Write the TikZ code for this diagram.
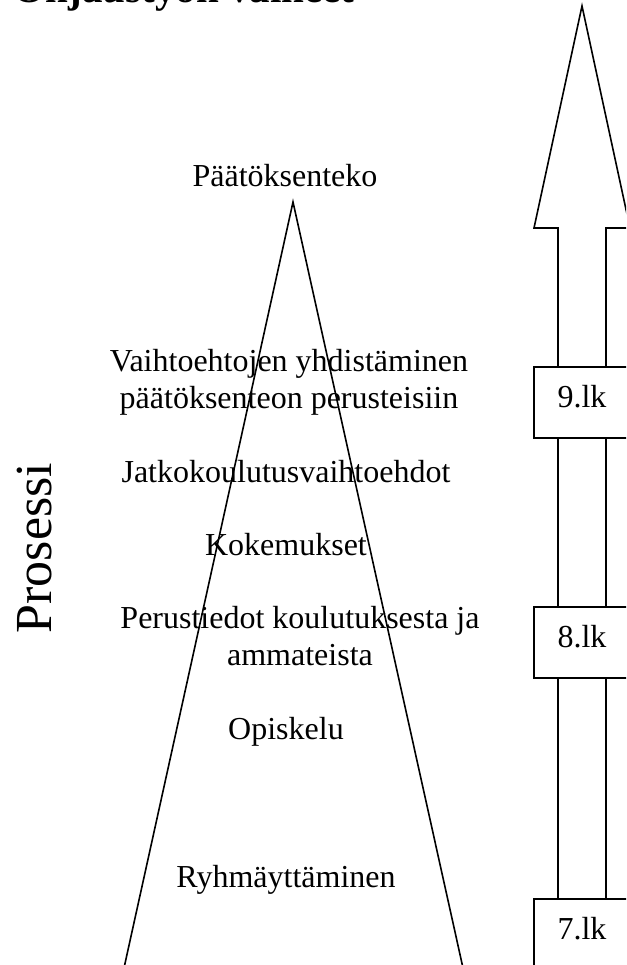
\documentclass[tikz,border=0pt]{standalone}
\usepackage{fontspec}
\setmainfont{Liberation Serif}
\usepackage{tikz}

\tikzset{
    stage/.style={inner sep=0pt, anchor=base, align=center,
        font=\fontsize{32}{36.5}\selectfont},
    lkbox/.style={draw, fill=white, minimum width=96pt, minimum height=71pt,
        inner sep=0pt, text height=22pt, text depth=13pt,
        font=\fontsize{32}{36.5}\selectfont},
}

\begin{document}
\begin{tikzpicture}[x=1pt, y=-1pt, line width=1.6pt]
% Canvas: x in [0, 626], y in [0, 965], y grows downwards
\useasboundingbox (0,0) rectangle (626,965);
\clip (0,0) rectangle (626,965);

% --- Title (cut off by the top edge) ---
\node[anchor=base west, inner sep=0pt, font=\bfseries\fontsize{41}{48}\selectfont]
    (otsikko) at (13,3) {Ohjaustyön vaiheet};

% --- Side label ---
\node[rotate=90, inner sep=0pt, font=\fontsize{52}{60}\selectfont]
    (prosessi) at (35,548) {Prosessi};

% --- Process triangle, open at the bottom edge ---
\coordinate (huippu) at (293,202);
\draw (124,968) -- (huippu) -- (463,968);

% --- Stage labels, top to bottom (base = last line) ---
\node[stage] (paatos)   at (285,187) {Päätöksenteko};
\node[stage] (vaihto)   at (289,408) {Vaihtoehtojen yhdistäminen\\päätöksenteon perusteisiin};
\node[stage] (jatko)    at (286,482) {Jatkokoulutusvaihtoehdot};
\node[stage] (kokemus)  at (286,555) {Kokemukset};
\node[stage] (perus)    at (300,665) {Perustiedot koulutuksesta ja\\ammateista};
\node[stage] (opiskelu) at (286,739) {Opiskelu};
\node[stage] (ryhma)    at (286,887) {Ryhmäyttäminen};

% --- Grade arrow, the right barb runs past the edge ---
\draw (558,970) -- (558,228) -- (534,228) -- (582,6)
    -- (630,228) -- (606,228) -- (606,970);

% Grade boxes sit on the shaft
\node[lkbox] (lk9) at (582,402.5) {9.lk};
\node[lkbox] (lk8) at (582,642.5) {8.lk};
\node[lkbox] (lk7) at (582,934.5) {7.lk};

\end{tikzpicture}
\end{document}
